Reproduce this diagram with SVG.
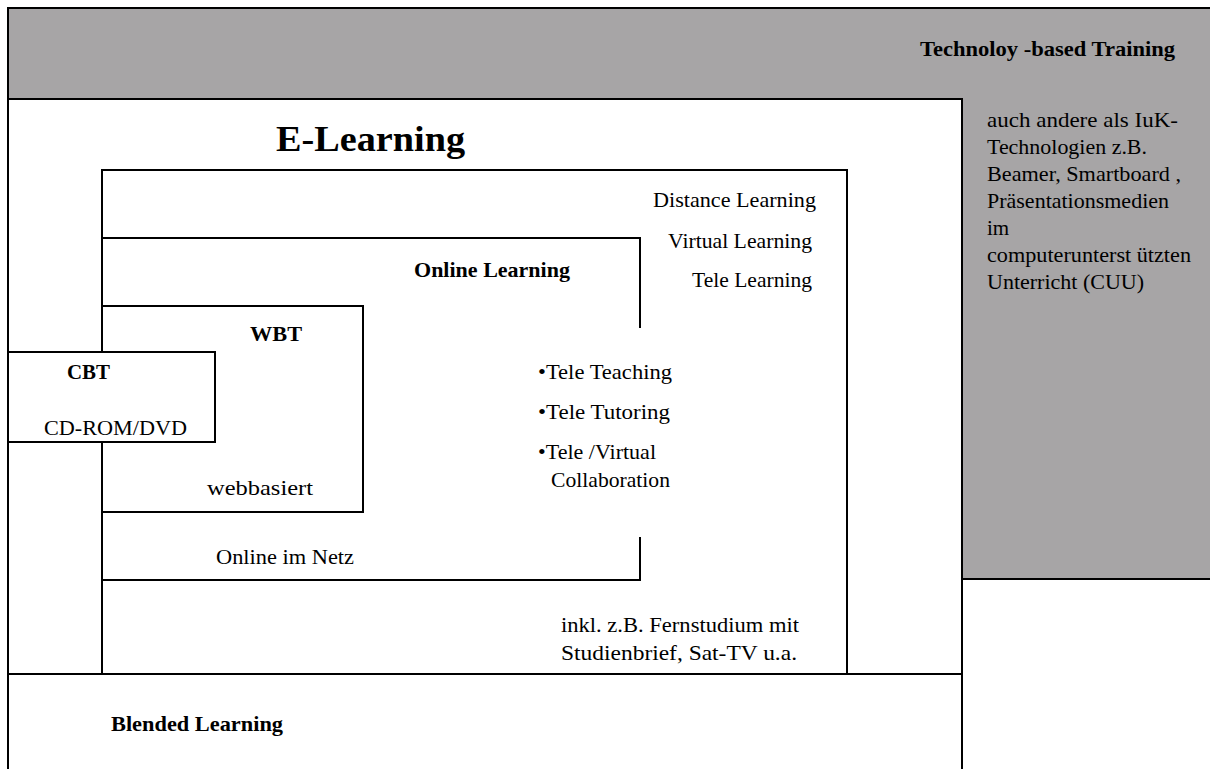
<svg xmlns="http://www.w3.org/2000/svg" width="1210" height="769" viewBox="0 0 1210 769">
<style>
text{font-family:"Liberation Serif","Times New Roman",serif;fill:#000;font-size:21px}
.b{font-weight:bold}
.big{font-size:36px}
.box{fill:none;stroke:#000;stroke-width:2}
</style>
<rect x="0" y="0" width="1210" height="769" fill="#fff"/>
<g id="tbt">
<rect x="8" y="8" width="1212" height="571" fill="#a7a5a6" stroke="#000" stroke-width="2"/>
<text class="b" x="920" y="56" textLength="255" lengthAdjust="spacingAndGlyphs">Technoloy -based Training</text>
<text x="987" y="127" textLength="191" lengthAdjust="spacingAndGlyphs">auch andere als  IuK-</text>
<text x="987" y="154" textLength="160" lengthAdjust="spacingAndGlyphs">Technologien z.B.</text>
<text x="987" y="181" textLength="194" lengthAdjust="spacingAndGlyphs">Beamer, Smartboard ,</text>
<text x="987" y="208" textLength="182" lengthAdjust="spacingAndGlyphs">Präsentationsmedien</text>
<text x="987" y="235">im</text>
<text x="987" y="262" textLength="204" lengthAdjust="spacingAndGlyphs">computerunterst ützten</text>
<text x="987" y="289" textLength="157" lengthAdjust="spacingAndGlyphs">Unterricht (CUU)</text>
</g>
<g id="elearning">
<rect x="8" y="99" width="954" height="680" fill="#fff" stroke="#000" stroke-width="2"/>
<text class="b big" x="276" y="151" textLength="189" lengthAdjust="spacingAndGlyphs">E-Learning</text>
</g>
<g id="distance">
<rect class="box" x="102" y="170" width="745" height="504"/>
<text x="653" y="207" textLength="163" lengthAdjust="spacingAndGlyphs">Distance  Learning</text>
<text x="668" y="248" textLength="144" lengthAdjust="spacingAndGlyphs">Virtual Learning</text>
<text x="692" y="287" textLength="120" lengthAdjust="spacingAndGlyphs">Tele Learning</text>
<text x="561" y="632" textLength="238" lengthAdjust="spacingAndGlyphs">inkl. z.B. Fernstudium mit</text>
<text x="561" y="660" textLength="236" lengthAdjust="spacingAndGlyphs">Studienbrief,  Sat-TV u.a.</text>
</g>
<g id="online">
<path class="box" d="M640 328V238H102V580H640V537"/>
<text class="b" x="414" y="277" textLength="156" lengthAdjust="spacingAndGlyphs">Online Learning</text>
<text x="538" y="379" textLength="134" lengthAdjust="spacingAndGlyphs">•Tele Teaching</text>
<text x="538" y="419" textLength="132" lengthAdjust="spacingAndGlyphs">•Tele Tutoring</text>
<text x="538" y="459" textLength="118" lengthAdjust="spacingAndGlyphs">•Tele /Virtual</text>
<text x="551" y="487" textLength="119" lengthAdjust="spacingAndGlyphs">Collaboration</text>
<text x="216" y="564" textLength="138" lengthAdjust="spacingAndGlyphs">Online im Netz</text>
</g>
<g id="wbt">
<rect class="box" x="102" y="306" width="261" height="206"/>
<text class="b" x="250" y="341" textLength="52" lengthAdjust="spacingAndGlyphs">WBT</text>
<text x="207" y="495" textLength="106" lengthAdjust="spacingAndGlyphs">webbasiert</text>
</g>
<g id="cbt">
<rect x="8" y="352" width="207" height="90" fill="#fff" stroke="#000" stroke-width="2"/>
<text class="b" x="67" y="379" textLength="43" lengthAdjust="spacingAndGlyphs">CBT</text>
<text x="44" y="435" textLength="143" lengthAdjust="spacingAndGlyphs">CD-ROM/DVD</text>
</g>
<g id="blended">
<line x1="8" y1="674" x2="962" y2="674" stroke="#000" stroke-width="2"/>
<text class="b" x="111" y="731" textLength="172" lengthAdjust="spacingAndGlyphs">Blended Learning</text>
</g>
<g id="connectors"></g>
</svg>
